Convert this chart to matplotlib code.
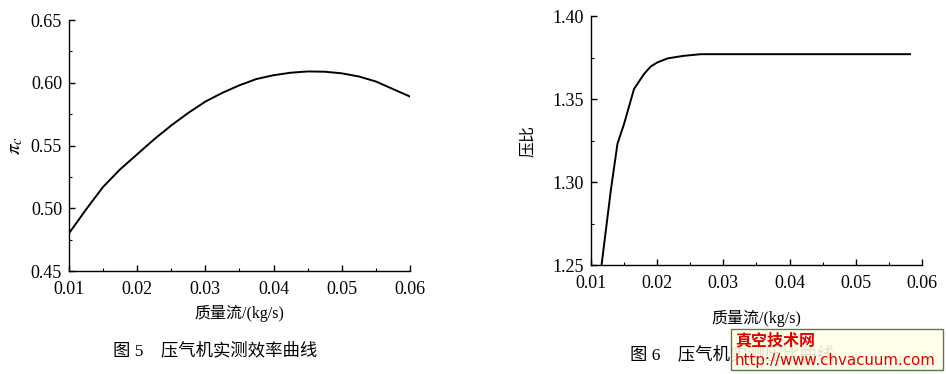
import matplotlib.pyplot as plt
from matplotlib.patches import Rectangle
from matplotlib.ticker import MultipleLocator

plt.rcParams['font.family'] = ['Liberation Serif', 'Noto Sans CJK SC']
plt.rcParams['mathtext.fontset'] = 'stix'

# fig 5: efficiency vs mass flow
eff_flow = [0.010, 0.0125, 0.015, 0.0175, 0.020, 0.0225, 0.025, 0.0275, 0.030, 0.0325,
            0.035, 0.0375, 0.040, 0.0425, 0.045, 0.0475, 0.050, 0.0525, 0.055, 0.0575, 0.060]
eff = [0.480, 0.499, 0.517, 0.531, 0.543, 0.555, 0.566, 0.576, 0.585, 0.592,
       0.598, 0.603, 0.606, 0.608, 0.609, 0.6088, 0.6075, 0.605, 0.601, 0.595, 0.589]

# fig 6: pressure ratio vs mass flow
pr_flow = [0.0116, 0.013, 0.014, 0.015, 0.0165, 0.018, 0.019, 0.020, 0.0216,
           0.024, 0.0266, 0.030, 0.040, 0.050, 0.0582]
pr = [1.250, 1.295, 1.323, 1.335, 1.356, 1.365, 1.3695, 1.372, 1.3745,
      1.376, 1.377, 1.377, 1.377, 1.377, 1.377]

fig = plt.figure(figsize=(9.46, 3.74), dpi=100)
ax1 = fig.add_axes([0.0729, 0.2754, 0.3605, 0.6711])
ax2 = fig.add_axes([0.6247, 0.2914, 0.3499, 0.6658])

for ax in (ax1, ax2):
    for s in ('top', 'right'):
        ax.spines[s].set_visible(False)
    for s in ('left', 'bottom'):
        ax.spines[s].set_linewidth(1.0)
    ax.tick_params(which='major', direction='in', length=4, width=1, labelsize=13, pad=5)
    ax.tick_params(which='minor', direction='in', length=2.5, width=0.8)
    ax.xaxis.set_major_locator(MultipleLocator(0.01))
    ax.xaxis.set_minor_locator(MultipleLocator(0.005))
    ax.xaxis.set_major_formatter(plt.FuncFormatter(lambda v, p: f"{v:.2f}"))
    ax.yaxis.set_major_formatter(plt.FuncFormatter(lambda v, p: f"{v:.2f}"))
    ax.set_xlim(0.01, 0.06)
    ax.tick_params(axis='x', pad=7)

ax1.plot(eff_flow, eff, color='black', lw=1.4)
ax1.set_ylim(0.45, 0.65)
ax1.yaxis.set_major_locator(MultipleLocator(0.05))
ax1.yaxis.set_minor_locator(MultipleLocator(0.025))
ax1.set_ylabel(r'$\pi_c$', fontsize=15, labelpad=4)
ax1.set_xlabel('质量流/(kg/s)', fontsize=11.5, labelpad=5)

ax2.plot(pr_flow, pr, color='black', lw=1.4, clip_on=False)
ax2.set_ylim(1.25, 1.40)
ax2.yaxis.set_major_locator(MultipleLocator(0.05))
ax2.yaxis.set_minor_locator(MultipleLocator(0.025))
ax2.set_ylabel('压比', fontsize=11.5, labelpad=12)
ax2.set_xlabel('质量流/(kg/s)', fontsize=11.5, labelpad=13)

# captions (the right one is partly hidden by the watermark, as in the source)
fig.text(0.227, 1 - 351 / 374, '图 5    压气机实测效率曲线', fontsize=12.5,
         ha='center', va='center')
fig.text(0.666, 1 - 355 / 374, '图 6    压气机实测压比曲线', fontsize=12.5,
         ha='left', va='center')

# watermark box
fig.patches.append(Rectangle((731 / 946, 1 - 370 / 374), 212 / 946, 41 / 374,
                             transform=fig.transFigure, facecolor='#ffffe8',
                             edgecolor='#3c6b3c', lw=1, alpha=0.88, zorder=5))
fig.text(735 / 946, 1 - 340 / 374, '真空技术网', color='#e00000', fontsize=11.5,
         fontweight='bold', family=['Noto Sans CJK SC'], ha='left', va='center', zorder=6)
fig.text(735 / 946, 1 - 360 / 374, 'http://www.chvacuum.com', color='#e00000',
         fontsize=10.8, family=['DejaVu Sans'], ha='left', va='center', zorder=6)

fig.savefig('out.png', dpi=100)
